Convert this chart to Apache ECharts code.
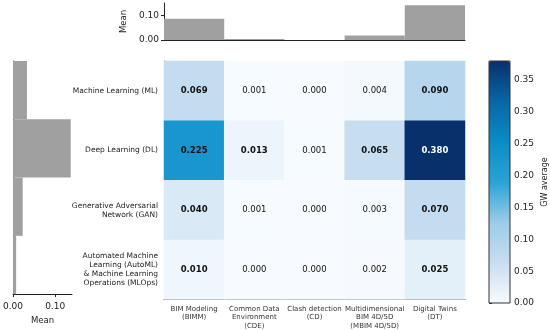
<!DOCTYPE html>
<html><head><meta charset="utf-8">
<script src="https://cdn.jsdelivr.net/npm/echarts@6/dist/echarts.min.js"></script>
<style>html,body{margin:0;padding:0;background:#fff}#c{width:550px;height:330px}</style>
</head><body><div id="c"></div>
<script>
const techs = ["BIM Modeling\n(BIMM)", "Common Data\nEnvironment\n(CDE)", "Clash detection\n(CD)", "Multidimensional\nBIM 4D/5D\n(MBIM 4D/5D)", "Digital Twins\n(DT)"];
const methods = ["Machine Learning (ML)", "Deep Learning (DL)", "Generative Adversarial\nNetwork (GAN)", "Automated Machine\nLearning (AutoML)\n& Machine Learning\nOperations (MLOps)"];
const valML = [0.069, 0.001, 0.000, 0.004, 0.090];
const valDL = [0.225, 0.013, 0.001, 0.065, 0.380];
const valGAN = [0.040, 0.001, 0.000, 0.003, 0.070];
const valAuto = [0.010, 0.000, 0.000, 0.002, 0.025];
const colMeans = [0.086, 0.004, 0.0003, 0.0185, 0.141];
const rowMeans = [0.033, 0.137, 0.023, 0.0074];
const barTicks = ["0.00", "0.10"];
const cbarTicks = ["0.00","0.05","0.10","0.15","0.20","0.25","0.30","0.35"];

const rows = [valML, valDL, valGAN, valAuto];
const heat = [];
rows.forEach((r, i) => r.forEach((v, j) => {
  heat.push({value: [j, i, v], label: {
    fontWeight: v >= 0.01 ? 'bold' : 'normal',
    color: v > 0.3 ? '#ffffff' : '#111111'
  }});
}));
const F = 'DejaVu Sans';
const chart = echarts.init(document.getElementById('c'));
chart.setOption({
  animation: false,
  textStyle: {fontFamily: F},
  grid: [
    {left: 164, top: 61, width: 301, height: 242},
    {left: 164, top: 3, width: 301, height: 37},
    {left: 11, top: 61, width: 61, height: 242},
    {left: 489, top: 61, width: 21, height: 242, show: true, borderColor: '#333', borderWidth: 1, backgroundColor: 'transparent', z: 10}
  ],
  xAxis: [
    {gridIndex: 0, type: 'category', data: techs, axisLine: {lineStyle: {color: '#333'}},
     axisTick: {alignWithLabel: true, length: 3, lineStyle: {color: '#333'}},
     axisLabel: {fontSize: 7, color: '#333', lineHeight: 8.5, margin: 5, interval: 0}, splitLine: {show: false}},
    {gridIndex: 1, type: 'category', data: techs, axisLine: {lineStyle: {color: '#222'}}, axisTick: {show: false}, axisLabel: {show: false}},
    {gridIndex: 2, type: 'value', min: 0, max: 0.14, interval: 0.1, axisLine: {show: true, lineStyle: {color: '#222'}},
     axisTick: {show: true, length: 3, lineStyle: {color: '#222'}},
     axisLabel: {fontSize: 9, color: '#222', showMaxLabel: false, formatter: v => barTicks[Math.round(v*10)] || ''},
     splitLine: {show: false},
     name: 'Mean', nameLocation: 'middle', nameGap: 17, nameTextStyle: {fontSize: 8.5, color: '#222'}},
    {gridIndex: 3, type: 'value', show: false, min: 0, max: 1}
  ],
  yAxis: [
    {gridIndex: 0, type: 'category', data: methods, inverse: true, axisLine: {lineStyle: {color: '#333'}},
     axisTick: {alignWithLabel: true, length: 3, lineStyle: {color: '#333'}},
     axisLabel: {fontSize: 7.5, color: '#222', lineHeight: 9, margin: 6, align: 'right'}, splitLine: {show: false}},
    {gridIndex: 1, type: 'value', min: 0, max: 0.15, interval: 0.1, axisLine: {show: true, lineStyle: {color: '#222'}},
     axisTick: {show: true, length: 3, lineStyle: {color: '#222'}},
     axisLabel: {fontSize: 9, color: '#222', showMaxLabel: false, margin: 5, formatter: v => barTicks[Math.round(v*10)] || ''},
     splitLine: {show: false},
     name: 'Mean', nameLocation: 'middle', nameGap: 34, nameRotate: 90, nameTextStyle: {fontSize: 8.5, color: '#222'}},
    {gridIndex: 2, type: 'category', data: methods, inverse: true, axisLine: {lineStyle: {color: '#222'}}, axisTick: {show: false}, axisLabel: {show: false}},
    {gridIndex: 3, type: 'value', position: 'right', min: 0, max: 0.38, interval: 0.05,
     axisLine: {show: false}, axisTick: {show: true, length: 3, lineStyle: {color: '#333'}},
     axisLabel: {fontSize: 9, color: '#222', margin: 4, showMaxLabel: false, formatter: v => cbarTicks[Math.round(v*20)] || ''},
     splitLine: {show: false},
     name: 'GW average', nameLocation: 'middle', nameRotate: 90, nameGap: 31, nameTextStyle: {fontSize: 8, color: '#222'}}
  ],
  visualMap: {
    type: 'continuous', min: 0, max: 0.38, seriesIndex: 0, calculable: false, orient: 'vertical',
    left: 489, top: 61, itemWidth: 21, itemHeight: 242, padding: 0, text: null, showLabel: false,
    inRange: {color: ['#f7fbff', '#c8def0', '#9ccbe8', '#2aa3d6', '#0a8cc6', '#0866a6', '#08306b']}
  },
  series: [
    {type: 'heatmap', xAxisIndex: 0, yAxisIndex: 0, data: heat,
     label: {show: true, fontSize: 8.5, fontFamily: F, formatter: p => p.value[2].toFixed(3)}},
    {type: 'bar', xAxisIndex: 1, yAxisIndex: 1, data: colMeans, barCategoryGap: 0, itemStyle: {color: '#a0a0a0'}},
    {type: 'bar', xAxisIndex: 2, yAxisIndex: 2, data: rowMeans, barCategoryGap: 0, itemStyle: {color: '#a0a0a0'}}
  ]
});
</script></body></html>
